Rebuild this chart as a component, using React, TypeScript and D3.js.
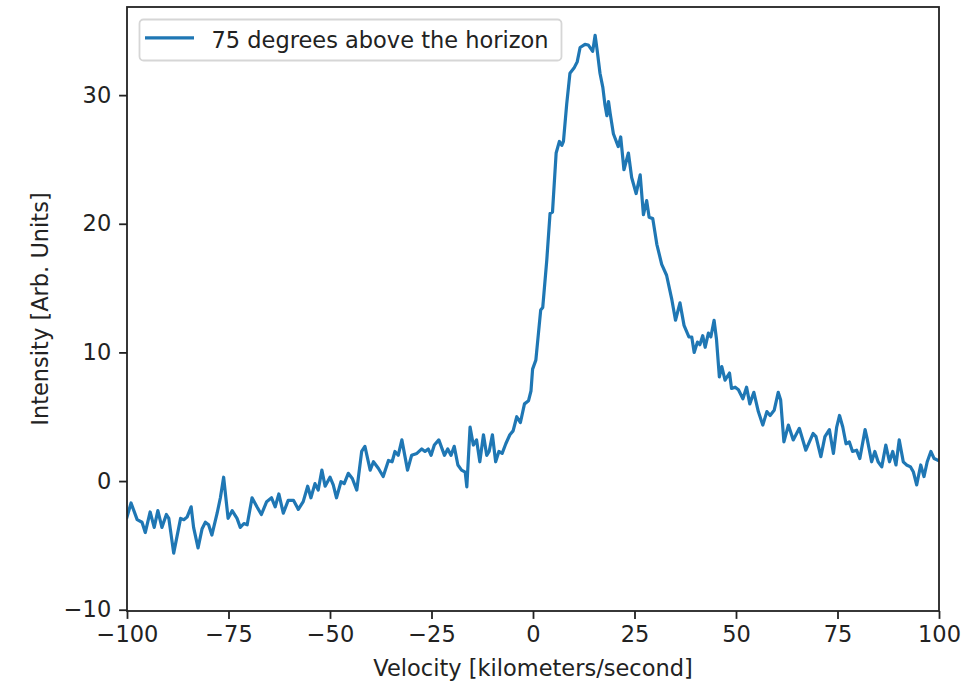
import React, { useEffect, useRef } from "react";
import * as d3 from "d3";

// velocity [km/s] and intensity readings of the spectrum
const velocity = [
  -100.0, -99.0, -97.5, -96.3, -95.5, -94.3, -93.3, -92.4, -91.4, -90.3, -89.7, -88.5, -86.8, -86.0,
  -85.2, -84.2, -83.6, -82.5, -81.5, -80.7, -79.9, -79.1, -77.8, -77.0, -76.2, -75.1, -74.1, -72.9,
  -72.1, -71.2, -70.4, -69.2, -68.0, -66.9, -65.6, -64.4, -63.5, -62.6, -61.5, -60.3, -59.0, -57.8,
  -56.6, -55.5, -54.7, -53.7, -52.9, -52.0, -51.2, -50.0, -49.2, -48.4, -47.3, -46.5, -45.5, -44.5,
  -43.4, -42.2, -41.4, -40.1, -39.3, -38.1, -36.9, -35.6, -34.7, -34.0, -33.2, -32.3, -30.9, -29.9,
  -28.6, -27.4, -26.6, -25.8, -25.1, -24.3, -23.2, -21.8, -21.0, -20.2, -19.4, -18.5, -17.6, -16.7,
  -16.3, -15.5, -14.7, -13.9, -13.1, -12.2, -11.4, -10.8, -10.0, -9.2, -8.4, -7.6, -6.7, -5.7,
  -4.9, -4.0, -3.1, -2.1, -1.1, -0.5, -0.1, 0.7, 1.9, 2.4, 3.4, 4.2, 4.8, 5.7,
  6.5, 7.1, 7.5, 8.3, 9.1, 10.1, 10.9, 11.6, 12.8, 13.6, 14.7, 15.3, 15.8, 16.5,
  17.2, 17.7, 18.2, 18.6, 19.0, 19.8, 21.0, 21.6, 22.4, 23.5, 24.3, 25.4, 26.4, 27.2,
  28.0, 28.6, 29.5, 30.5, 31.7, 32.9, 34.2, 35.1, 36.2, 37.2, 38.4, 39.1, 39.7, 40.5,
  41.1, 41.8, 42.4, 43.2, 43.8, 44.6, 45.2, 45.9, 46.5, 47.3, 48.4, 48.9, 49.8, 50.6,
  51.7, 52.6, 53.4, 54.4, 55.5, 56.6, 57.6, 58.4, 59.4, 60.4, 61.0, 61.8, 62.9, 64.1,
  65.6, 67.2, 69.0, 69.7, 70.9, 71.9, 73.0, 74.0, 74.8, 75.5, 76.3, 77.1, 77.9, 78.7,
  79.7, 80.5, 81.8, 82.3, 83.4, 84.2, 85.0, 85.9, 86.9, 87.8, 88.6, 89.4, 90.2, 91.2,
  92.0, 93.0, 93.7, 94.5, 95.5, 96.3, 97.1, 98.0, 98.8, 99.8,
];

const intensity = [
  -2.8, -1.7, -3.0, -3.2, -4.0, -2.4, -3.6, -2.3, -3.6, -2.6, -2.9, -5.6, -2.9, -3.0,
  -2.8, -2.0, -3.6, -5.2, -3.7, -3.2, -3.4, -4.2, -2.5, -1.3, 0.3, -2.9, -2.3, -2.9,
  -3.6, -3.3, -3.4, -1.3, -2.0, -2.6, -1.6, -1.3, -2.0, -1.0, -2.5, -1.5, -1.5, -2.2,
  -1.6, -0.4, -1.3, -0.2, -0.7, 0.85, -0.4, 0.3, -0.3, -1.3, -0.05, -0.2, 0.6, 0.2,
  -0.7, 2.3, 2.7, 0.85, 1.5, 1.0, 0.35, 1.6, 1.5, 2.3, 2.0, 3.2, 0.85, 2.0,
  2.15, 2.5, 2.3, 2.5, 2.0, 2.8, 3.2, 2.0, 2.5, 2.0, 2.7, 1.25, 0.85, 0.7,
  -0.45, 4.2, 2.8, 3.2, 1.5, 3.6, 2.0, 2.3, 3.6, 1.5, 2.3, 2.15, 2.9, 3.6,
  3.9, 5.0, 4.55, 6.0, 6.25, 7.0, 8.7, 9.4, 13.3, 13.5, 17.2, 20.8, 20.9, 25.5,
  26.4, 26.1, 26.4, 29.3, 31.7, 32.1, 32.6, 33.7, 33.95, 33.9, 33.4, 34.65, 33.5, 31.7,
  30.6, 29.3, 28.4, 29.5, 28.6, 27.0, 26.0, 26.75, 24.2, 25.5, 23.6, 22.35, 23.8, 20.7,
  21.8, 20.5, 20.4, 18.4, 16.85, 16.0, 14.1, 12.5, 13.85, 12.1, 11.2, 11.2, 10.0, 10.8,
  10.6, 11.3, 10.4, 11.5, 11.2, 12.5, 11.0, 8.1, 8.9, 7.85, 8.4, 7.2, 7.3, 7.1,
  6.4, 7.3, 6.0, 6.9, 5.4, 4.35, 5.4, 5.1, 5.5, 6.9, 6.3, 3.05, 4.35, 3.2,
  4.1, 2.4, 3.7, 3.45, 1.9, 3.45, 4.0, 2.15, 4.2, 5.1, 4.2, 2.9, 3.05, 2.3,
  2.4, 1.75, 4.0, 3.3, 1.5, 2.3, 1.5, 1.1, 2.8, 1.5, 2.3, 1.25, 3.2, 1.5,
  1.25, 1.1, 0.7, -0.3, 1.25, 0.35, 1.5, 2.3, 1.75, 1.6,
];

const xTicks = [-100, -75, -50, -25, 0, 25, 50, 75, 100];
const yTicks = [-10, 0, 10, 20, 30];
const seriesLabel = "75 degrees above the horizon";
const xLabel = "Velocity [kilometers/second]";
const yLabel = "Intensity [Arb. Units]";

const W = 971;
const H = 686;
const margin = { top: 7, right: 32, bottom: 75, left: 127 };
const FONT = "'DejaVu Sans', sans-serif";
const FS = 22.5;
const BLUE = "#1f77b4";

const App = () => {
  const xAxisRef = useRef<SVGGElement>(null);
  const yAxisRef = useRef<SVGGElement>(null);

  const innerW = W - margin.left - margin.right;
  const innerH = H - margin.top - margin.bottom;

  const x = d3.scaleLinear().domain([-100, 100]).range([0, innerW]);
  const y = d3.scaleLinear().domain([-10.1, 36.85]).range([innerH, 0]);

  const points = velocity.map((v, i) => [v, intensity[i]] as [number, number]);
  const line = d3
    .line<[number, number]>()
    .x((d) => x(d[0]))
    .y((d) => y(d[1]));

  useEffect(() => {
    const styleAxis = (g: d3.Selection<SVGGElement, unknown, null, undefined>) => {
      g.select(".domain").remove();
      g.selectAll(".tick line").attr("stroke", "#222").attr("stroke-width", 1.8);
      g.selectAll(".tick text")
        .attr("fill", "#222")
        .style("font-family", FONT)
        .style("font-size", `${FS}px`);
    };

    const xAxis = d3.axisBottom(x).tickValues(xTicks).tickSize(7.9).tickPadding(7.5);
    d3.select(xAxisRef.current!).call(xAxis).call(styleAxis);

    const yAxis = d3.axisLeft(y).tickValues(yTicks).tickSize(7.9).tickPadding(7.9);
    d3.select(yAxisRef.current!).call(yAxis).call(styleAxis);
  }, []);

  return (
    <svg
      width={W}
      height={H}
      style={{ position: "absolute", left: 0, top: 0, background: "#fff" }}
    >
      <defs>
        <clipPath id="plot-clip">
          <rect x={0} y={0} width={innerW} height={innerH} />
        </clipPath>
      </defs>
      <g transform={`translate(${margin.left},${margin.top})`}>
        <path
          d={line(points) || ""}
          fill="none"
          stroke={BLUE}
          strokeWidth={3.2}
          strokeLinejoin="round"
          strokeLinecap="square"
          clipPath="url(#plot-clip)"
        />
        <rect x={0} y={0} width={innerW} height={innerH} fill="none" stroke="#222" strokeWidth={1.8} />
        <g ref={xAxisRef} transform={`translate(0,${innerH})`} />
        <g ref={yAxisRef} />

        {/* legend */}
        <g transform="translate(12.5,12.5)">
          <rect
            x={0}
            y={0}
            width={422}
            height={41}
            rx={4}
            fill="#fff"
            fillOpacity={0.8}
            stroke="#d6d6d6"
            strokeWidth={1.8}
          />
          <line x1={5.5} x2={54.5} y1={18.3} y2={18.3} stroke={BLUE} strokeWidth={3.2} />
          <text x={72} y={21} dy="0.35em" fill="#222" style={{ fontFamily: FONT, fontSize: FS }}>
            {seriesLabel}
          </text>
        </g>
      </g>

      <text
        x={margin.left + innerW / 2}
        y={668}
        dy="0.35em"
        textAnchor="middle"
        fill="#222"
        style={{ fontFamily: FONT, fontSize: FS }}
      >
        {xLabel}
      </text>
      <text
        transform={`translate(40,${margin.top + innerH / 2}) rotate(-90)`}
        dy="0.35em"
        textAnchor="middle"
        fill="#222"
        style={{ fontFamily: FONT, fontSize: FS }}
      >
        {yLabel}
      </text>
    </svg>
  );
};

export default App;
